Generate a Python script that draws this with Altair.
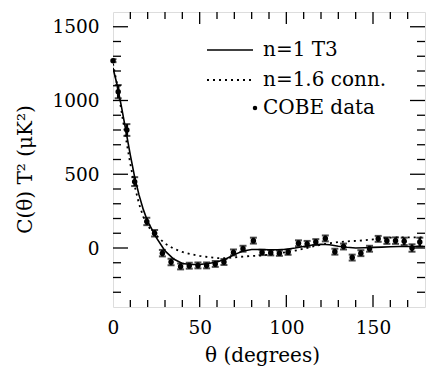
import altair as alt
import pandas as pd

# COBE data points
cobe_theta = [0, 3, 8, 12.5, 19.5, 24, 28.5, 33.5, 39, 44, 49, 54, 59, 64, 69.5, 75,
              81, 86, 91, 96, 101, 107, 112, 117, 122.5, 128, 133, 138, 143, 148,
              153, 158, 163, 168, 172.5, 177]
cobe_value = [1270, 1060, 800, 450, 180, 100, -35, -95, -125, -120, -118, -118, -108,
              -95, -30, -5, 50, -30, -32, -35, -28, 32, 28, 40, 65, -25, 10, -65, -35,
              -5, 62, 50, 50, 45, 0, 40]
cobe_err = [10, 45, 40, 30, 25, 22, 22, 22, 20, 20, 20, 20, 20, 20, 20, 20,
            20, 18, 18, 18, 18, 20, 20, 20, 20, 20, 20, 20, 20, 20,
            20, 22, 22, 25, 25, 30]

# n=1 T3 model (solid)
t3_theta = [0, 2.5, 5, 7.5, 10, 12.5, 15, 17.5, 20, 25, 30, 35, 40, 45, 50, 55, 60, 65,
            70, 75, 80, 85, 90, 95, 100, 105, 110, 115, 120, 125, 130, 135, 140, 145,
            150, 155, 160, 165, 170, 175, 180]
t3_value = [1220, 1100, 950, 790, 630, 480, 360, 260, 180, 70, -20, -75, -105, -112,
            -112, -105, -95, -75, -45, -20, -10, -10, -12, -12, -8, 0, 10, 20, 25, 22,
            12, 5, 0, 2, 4, 6, 8, 10, 10, 10, 10]

# n=1.6 connected model (dotted)
conn_theta = [0, 2.5, 5, 7.5, 10, 12.5, 15, 17.5, 20, 25, 30, 35, 40, 45, 50, 55, 60, 65,
              70, 75, 80, 85, 90, 95, 100, 105, 110, 115, 120, 125, 130, 135, 140, 145,
              150, 155, 160, 165, 170, 175, 180]
conn_value = [1250, 1100, 920, 740, 570, 420, 300, 210, 150, 85, 30, -5, -27, -42, -54,
              -62, -68, -68, -64, -58, -54, -52, -45, -38, -28, -18, -5, 10, 22, 32, 40,
              45, 48, 52, 58, 65, 70, 72, 72, 72, 72]

legend_labels = ["n=1 T3", "n=1.6 conn.", "COBE data"]

x_minor = [v for v in range(10, 180, 10) if v % 50 != 0]
x_major = [50, 100, 150]
x_labels = [0, 50, 100, 150]
y_minor = [v for v in range(-300, 1600, 100) if v % 500 != 0]
y_major = [0, 500, 1000, 1500]

W, H = 312, 295
FONT = "DejaVu Serif"

xs = alt.Scale(domain=[0, 180], nice=False, zero=False)
ys = alt.Scale(domain=[-400, 1600], nice=False, zero=False)

cobe = pd.DataFrame({"theta": cobe_theta, "v": cobe_value, "e": cobe_err})
cobe["lo"] = cobe["v"] - cobe["e"]
cobe["hi"] = cobe["v"] + cobe["e"]
t3 = pd.DataFrame({"theta": t3_theta, "v": t3_value})
conn = pd.DataFrame({"theta": conn_theta, "v": conn_value})
one = pd.DataFrame({"k": [0]})

axis_common = dict(ticks=False, domain=False, grid=False, labelFontSize=18.5,
                   titleFontSize=20, labelFont=FONT, titleFont=FONT,
                   titleFontWeight="normal", labelColor="black", titleColor="black",
                   labelFlush=False, format="d", titleBaseline="middle")
base_x = alt.X("theta:Q", scale=xs,
               axis=alt.Axis(values=x_labels, title="θ (degrees)", labelPadding=11,
                             titleX=149, titleY=48, **axis_common))
base_y = alt.Y("v:Q", scale=ys,
               axis=alt.Axis(values=y_major, title="C(θ) T² (μK²)", labelPadding=14,
                             titleX=-88, titleY=157, titleAngle=270, **axis_common))

solid = alt.Chart(t3).mark_line(color="black", strokeWidth=1.6, clip=True).encode(
    x=base_x, y=base_y)
dotted = alt.Chart(conn).mark_line(color="black", strokeWidth=1.8, strokeDash=[2, 4],
                                   clip=True).encode(x="theta:Q", y="v:Q")
bars = alt.Chart(cobe).mark_rule(color="black", strokeWidth=2.5, clip=True).encode(
    x="theta:Q", y="lo:Q", y2="hi:Q")
cap_lo = alt.Chart(cobe).mark_tick(color="black", orient="horizontal", size=7,
                                   thickness=2, clip=True).encode(x="theta:Q", y="lo:Q")
cap_hi = alt.Chart(cobe).mark_tick(color="black", orient="horizontal", size=7,
                                   thickness=2, clip=True).encode(x="theta:Q", y="hi:Q")
pts = alt.Chart(cobe).mark_circle(color="black", size=30, opacity=1).encode(
    x="theta:Q", y="v:Q")

def xticks(vals, length):
    df = pd.DataFrame({"theta": vals})
    b = alt.Chart(df).mark_rule(color="black", strokeWidth=1.3).encode(
        x="theta:Q", y=alt.value(H), y2=alt.value(H - length))
    t = alt.Chart(df).mark_rule(color="black", strokeWidth=1.3).encode(
        x="theta:Q", y=alt.value(0), y2=alt.value(length))
    return [b, t]

def yticks(vals, length):
    df = pd.DataFrame({"v": vals})
    l = alt.Chart(df).mark_rule(color="black", strokeWidth=1.3).encode(
        y="v:Q", x=alt.value(0), x2=alt.value(length))
    r = alt.Chart(df).mark_rule(color="black", strokeWidth=1.3).encode(
        y="v:Q", x=alt.value(W), x2=alt.value(W - length))
    return [l, r]

ticks = (xticks(x_minor, 7) + xticks(x_major, 12) +
         yticks(y_minor, 8) + yticks(y_major, 15))

# legend (hand drawn, inside the plot area)
leg_solid = alt.Chart(one).mark_rule(color="black", strokeWidth=1.6).encode(
    x=alt.value(94), x2=alt.value(140), y=alt.value(38))
leg_dot = alt.Chart(one).mark_rule(color="black", strokeWidth=1.8, strokeDash=[2, 4]).encode(
    x=alt.value(94), x2=alt.value(140), y=alt.value(68))
leg_pt = alt.Chart(one).mark_circle(color="black", size=20, opacity=1).encode(
    x=alt.value(142), y=alt.value(96))
leg_texts = [
    alt.Chart(one).mark_text(text=lab, font=FONT, fontSize=20, align="left",
                             baseline="middle", color="black").encode(
        x=alt.value(150), y=alt.value(yy))
    for lab, yy in zip(legend_labels, [38, 68, 96])
]

chart = alt.layer(solid, dotted, bars, cap_lo, cap_hi, pts, *ticks, leg_solid, leg_dot,
                  leg_pt, *leg_texts).properties(
    width=W, height=H,
    padding={"left": 113, "top": 12, "right": 2, "bottom": 62},
    autosize=alt.AutoSizeParams(type="none"),
).configure_view(stroke="black", strokeWidth=1.6).configure(background="white")

chart.save("out.html", embed_options={"renderer": "svg", "actions": False})
